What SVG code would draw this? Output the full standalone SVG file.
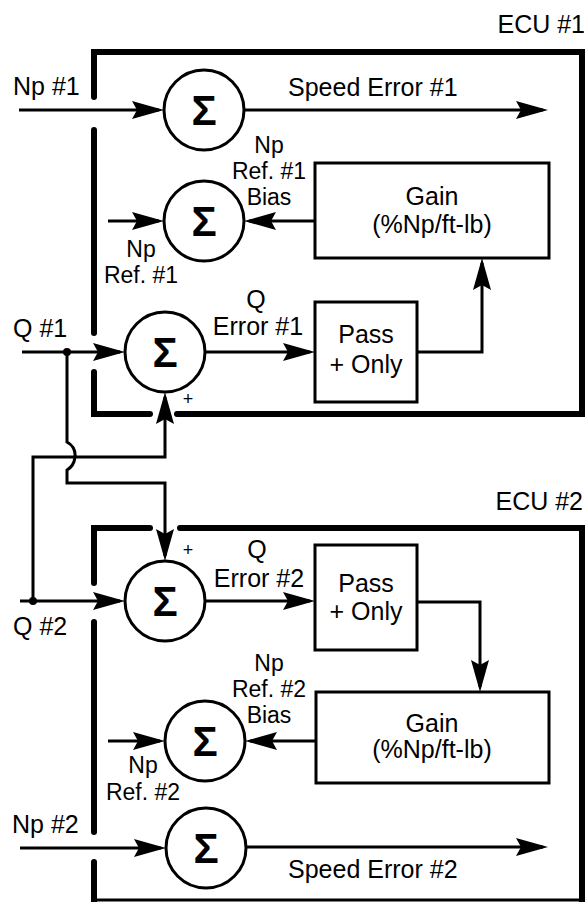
<svg xmlns="http://www.w3.org/2000/svg" width="587" height="902" viewBox="0 0 587 902">
<style>
text{font-family:"Liberation Sans",Arial,sans-serif;font-size:25px;fill:#000}
.m{text-anchor:middle}
.e{text-anchor:end}
.s{font-size:23px}
.sig{font-weight:bold;font-size:42px;text-anchor:middle}
.pl{font-size:18px;text-anchor:middle}
.frame{fill:none;stroke:#000;stroke-width:6;stroke-linecap:round;stroke-linejoin:miter}
.box{fill:#fff;stroke:#000;stroke-width:3}
.ring{fill:#fff;stroke:#000;stroke-width:3}
.c{fill:none;stroke:#000;stroke-width:3}
.a{marker-end:url(#ah)}
</style>
<defs>
<marker id="ah" markerUnits="userSpaceOnUse" markerWidth="34" markerHeight="22" viewBox="0 0 34 22" refX="27" refY="11" orient="auto">
<path d="M0,2 L32,11 L0,20 L5,11 Z" fill="#000"/>
</marker>
</defs>

<g id="ecu1">
<path class="frame" d="M94,97 V52 H582 V414 H177"/>
<path class="frame" d="M94,130 V333"/>
<path class="frame" d="M94,372 V414 H150"/>
<text class="e" x="585" y="33">ECU #1</text>
</g>
<g id="ecu2">
<path class="frame" d="M150,528 H94 V583"/>
<path class="frame" d="M180,528 H582 V902"/>
<path class="frame" d="M94,622 V832"/>
<path class="frame" d="M94,862 V902"/>
<path class="c" d="M94,900 H582"/>
<text class="e" x="583" y="510">ECU #2</text>
</g>

<g id="connectors">
<path class="c a" d="M19,110 H159"/>
<path class="c a" d="M244,110 H543"/>
<path class="c a" d="M108,221 H159"/>
<path class="c a" d="M315,221 H249"/>
<path class="c a" d="M22,352 H120"/>
<path class="c a" d="M205,352 H310"/>
<path class="c a" d="M417,352 H482 V263"/>
<path class="c a" d="M67,352 V442 Q76,447 75,457 Q74,466 67,470 V483 H165 V556"/>
<path class="c a" d="M33,601 V457 H165 V397"/>
<path class="c a" d="M20,601 H120"/>
<path class="c a" d="M205,601 H310"/>
<path class="c a" d="M417,602 H480 V687"/>
<path class="c a" d="M316,741 H250"/>
<path class="c a" d="M108,741 H160"/>
<path class="c a" d="M20,848 H161"/>
<path class="c a" d="M246,847 H543"/>
<circle cx="67" cy="352" r="4" fill="#000"/>
<circle cx="33" cy="601" r="4" fill="#000"/>
</g>

<g id="sum1">
<circle class="ring" cx="204" cy="110" r="40"/>
<text class="sig" x="204" y="125">Σ</text>
</g>
<g id="sum2">
<circle class="ring" cx="204" cy="221" r="40"/>
<text class="sig" x="204" y="236">Σ</text>
</g>
<g id="sum3">
<circle class="ring" cx="165" cy="352" r="40"/>
<text class="sig" x="165" y="367">Σ</text>
</g>
<g id="sum4">
<circle class="ring" cx="165" cy="601" r="40"/>
<text class="sig" x="165" y="616">Σ</text>
</g>
<g id="sum5">
<circle class="ring" cx="205" cy="741" r="40"/>
<text class="sig" x="205" y="756">Σ</text>
</g>
<g id="sum6">
<circle class="ring" cx="206" cy="848" r="40"/>
<text class="sig" x="206" y="863">Σ</text>
</g>

<g id="gain1">
<rect class="box" x="315" y="163" width="234" height="95"/>
<text class="m" x="432" y="205">Gain</text>
<text class="m" x="432" y="233">(%Np/ft-lb)</text>
</g>
<g id="pass1">
<rect class="box" x="315" y="302" width="102" height="100"/>
<text class="m" x="366" y="343">Pass</text>
<text class="m" x="366" y="373">+ Only</text>
</g>
<g id="pass2">
<rect class="box" x="315" y="545" width="102" height="105"/>
<text class="m" x="366" y="592">Pass</text>
<text class="m" x="366" y="620">+ Only</text>
</g>
<g id="gain2">
<rect class="box" x="316" y="692" width="233" height="91"/>
<text class="m" x="432" y="732">Gain</text>
<text class="m" x="432" y="758">(%Np/ft-lb)</text>
</g>

<g id="labels">
<text x="13" y="95">Np #1</text>
<text x="288" y="96">Speed Error #1</text>
<text class="m s" x="269" y="153">Np</text>
<text class="m s" x="269" y="179">Ref. #1</text>
<text class="m s" x="269" y="205">Bias</text>
<text class="m s" x="141" y="257">Np</text>
<text class="m s" x="141" y="283">Ref. #1</text>
<text x="13" y="337">Q #1</text>
<text class="m" x="256" y="308">Q</text>
<text class="m" x="258" y="335">Error #1</text>
<text class="pl" x="188" y="405">+</text>
<text class="pl" x="188" y="556">+</text>
<text class="m" x="257" y="558">Q</text>
<text class="m" x="259" y="587">Error #2</text>
<text x="13" y="635">Q #2</text>
<text class="m s" x="269" y="671">Np</text>
<text class="m s" x="269" y="697">Ref. #2</text>
<text class="m s" x="269" y="723">Bias</text>
<text class="m s" x="143" y="773">Np</text>
<text class="m s" x="143" y="800">Ref. #2</text>
<text x="12" y="833">Np #2</text>
<text x="288" y="878">Speed Error #2</text>
</g>
</svg>
